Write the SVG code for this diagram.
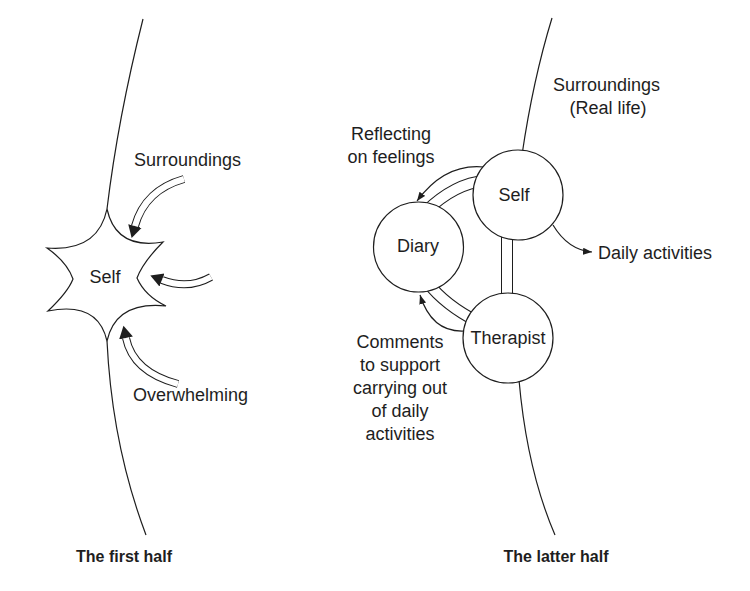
<svg xmlns="http://www.w3.org/2000/svg" width="750" height="591" viewBox="0 0 750 591">
<defs>
<style>
.ln{fill:none;stroke:#1e1e1e;stroke-width:1.2}
.dblb{fill:none;stroke:#1e1e1e;stroke-width:8}
.dblw{fill:none;stroke:#fff;stroke-width:6}
.pairb{fill:none;stroke:#1e1e1e;stroke-width:12}
.pairw{fill:none;stroke:#fff;stroke-width:10}
.node{fill:#fff;stroke:#1e1e1e;stroke-width:1.2}
text{font-family:"Liberation Sans",Arial,sans-serif;font-size:18px;fill:#1e1e1e}
.mid{text-anchor:middle}
.title{font-weight:bold;font-size:16px}
</style>
<marker id="big" markerUnits="userSpaceOnUse" markerWidth="13" markerHeight="15" refX="0" refY="7" orient="auto">
<path d="M0,0 L12.5,7 L0,14 Z" fill="#1e1e1e"/>
</marker>
<marker id="small" markerUnits="userSpaceOnUse" markerWidth="10" markerHeight="8" refX="9" refY="3.5" orient="auto">
<path d="M0,0 L9,3.5 L0,7 Z" fill="#1e1e1e"/>
</marker>
</defs>
<rect width="750" height="591" fill="#fff"/>

<g id="boundaries">
<path class="ln" d="M143,19 Q118,118 107,209"/>
<path class="ln" d="M107,341 Q112,445 146,535"/>
<path class="ln" d="M552,18 Q533,80 522,155"/>
<path class="ln" d="M519,380 Q527,470 555,535"/>
</g>

<g id="connectors">
<g id="arrow-surroundings">
<path class="dblb" d="M184,179 Q145,190 135,226" marker-end="url(#big)"/>
<path class="dblw" d="M184,179 Q145,190 135,226"/>
</g>
<g id="arrow-middle">
<path class="dblb" d="M211,277 Q188,290 162,280" marker-end="url(#big)"/>
<path class="dblw" d="M211,277 Q188,290 162,280"/>
</g>
<g id="arrow-overwhelming">
<path class="dblb" d="M178,384 Q133,372 126,338" marker-end="url(#big)"/>
<path class="dblw" d="M178,384 Q133,372 126,338"/>
</g>
<g id="self-diary">
<path class="pairb" d="M485,181 Q455,183 425,212"/>
<path class="pairw" d="M485,181 Q455,183 425,212"/>
<path class="ln" d="M484,167 Q445,163 417,201" marker-end="url(#small)"/>
</g>
<g id="self-therapist">
<path class="pairb" d="M507,225 L507,305"/>
<path class="pairw" d="M507,225 L507,305"/>
</g>
<g id="therapist-diary">
<path class="pairb" d="M428,283 Q445,305 478,322"/>
<path class="pairw" d="M428,283 Q445,305 478,322"/>
<path class="ln" d="M465,331 Q432,333 420,295" marker-end="url(#small)"/>
</g>
<g id="self-daily">
<path class="ln" d="M553,225 Q568,250 592,252" marker-end="url(#small)"/>
</g>
</g>

<g id="node-self-first">
<path class="node" d="M107,209 Q116,250 163,242 Q143,262 137,278 Q145,296 166,306 Q116,301 107,341 Q98,301 48,311 Q68,292 73,279 Q67,262 47,248 Q98,252 107,209 Z"/>
<text class="mid" x="105" y="283">Self</text>
</g>
<g id="node-self">
<circle class="node" cx="518" cy="195" r="45"/>
<text class="mid" x="514" y="201">Self</text>
</g>
<g id="node-diary">
<circle class="node" cx="418.5" cy="247" r="45"/>
<text class="mid" x="418" y="252">Diary</text>
</g>
<g id="node-therapist">
<circle class="node" cx="508" cy="338" r="45"/>
<text class="mid" x="508" y="344">Therapist</text>
</g>

<g id="labels">
<text x="134" y="166">Surroundings</text>
<text x="133" y="401">Overwhelming</text>
<text x="553" y="91">Surroundings</text>
<text class="mid" x="608" y="114">(Real life)</text>
<text class="mid" x="391" y="140">Reflecting</text>
<text class="mid" x="391" y="163">on feelings</text>
<text x="598" y="259">Daily activities</text>
<text class="mid" x="400" y="348">Comments</text>
<text class="mid" x="400" y="371">to support</text>
<text class="mid" x="400" y="394">carrying out</text>
<text class="mid" x="400" y="417">of daily</text>
<text class="mid" x="400" y="440">activities</text>
<text class="mid title" x="124" y="562">The first half</text>
<text class="mid title" x="556" y="562">The latter half</text>
</g>
</svg>
